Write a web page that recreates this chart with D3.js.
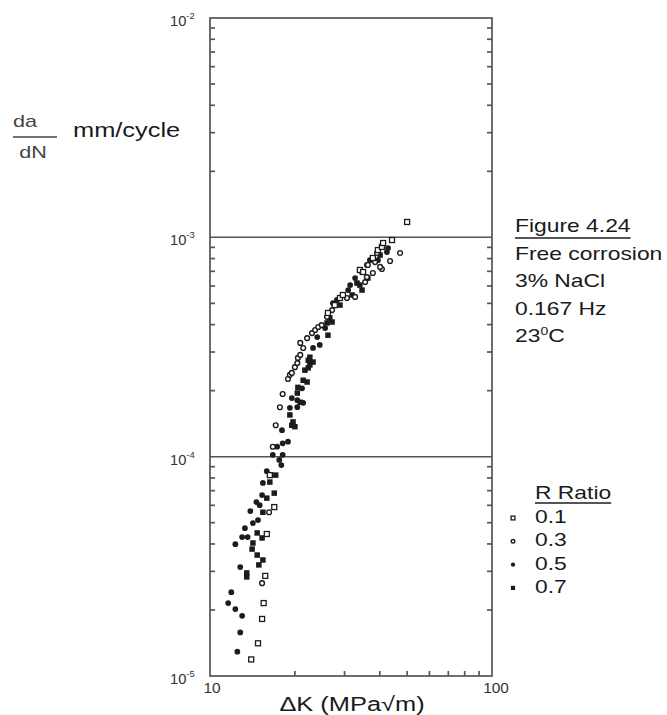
<!DOCTYPE html>
<html>
<head>
<meta charset="utf-8">
<script src="https://cdn.jsdelivr.net/npm/d3@7"></script>
<style>
  body { margin: 0; background: #fff; }
  svg { display: block; font-family: "Liberation Sans", Arial, sans-serif; }
  text { fill: #1a1a1a; }
</style>
</head>
<body>
<svg></svg>
<script>
// R = 0.1, open squares  [dK, da/dN]
const r01 = [[14.0,1.19e-5],[14.8,1.41e-5],[15.3,1.82e-5],[15.5,2.15e-5],[15.7,2.86e-5],[15.9,4.44e-5],
	[16.9,5.89e-5],[16.3,8.24e-5],[26.2,4.52e-4],[27.7,4.91e-4],[28.9,5.29e-4],[29.6,5.46e-4],[34.0,7.10e-4],
	[34.9,6.95e-4],[37.8,8.05e-4],[39.4,8.75e-4],[40.7,9.04e-4],[41.1,9.42e-4],[44.2,9.72e-4],[50.0,1.175e-3]];
// R = 0.3, open circles
const r03 = [[15.3,2.65e-5],[16.2,5.58e-5],[16.7,1.11e-4],[17.1,1.39e-4],[17.7,1.68e-4],[18.1,1.93e-4],
	[18.9,2.26e-4],[19.2,2.36e-4],[19.5,2.41e-4],[20.0,2.56e-4],[20.4,2.67e-4],[20.5,2.82e-4],[20.9,2.91e-4],
	[20.9,3.30e-4],[21.4,3.13e-4],[22.1,3.47e-4],[23.0,3.66e-4],[23.6,3.78e-4],[24.2,3.90e-4],[24.9,3.98e-4],
	[26.0,4.34e-4],[27.1,4.66e-4],[30.6,5.29e-4],[32.7,5.35e-4],[34.6,6.95e-4],[35.5,6.25e-4],[36.0,6.59e-4],
	[36.3,7.48e-4],[37.8,6.88e-4],[38.5,7.71e-4],[39.1,8.48e-4],[40.7,7.17e-4],[43.5,7.80e-4],[47.2,8.48e-4],
	[40.1,7.33e-4]];
// R = 0.5, filled circles
const r05 = [[12.5,1.29e-5],[12.8,1.58e-5],[13.0,1.88e-5],[12.3,2.02e-5],[11.6,2.15e-5],[11.9,2.41e-5],
	[12.8,3.14e-5],[12.3,3.99e-5],[13.0,4.30e-5],[13.6,4.30e-5],[13.3,4.72e-5],[13.9,5.65e-5],[14.2,4.98e-5],
	[14.6,6.21e-5],[14.8,5.14e-5],[15.0,6.01e-5],[15.4,7.59e-5],[15.3,6.68e-5],[15.9,8.59e-5],[16.7,1.02e-4],
	[17.3,1.11e-4],[18.0,1.32e-4],[18.1,1.15e-4],[18.9,1.17e-4],[17.6,9.66e-5],[17.9,9.16e-5],[18.1,1.02e-4],
	[19.2,1.67e-4],[20.4,1.81e-4],[21.2,2.05e-4],[19.5,1.85e-4],[21.4,1.76e-4],[20.4,1.68e-4],[23.2,3.13e-4],
	[24.0,3.51e-4],[24.5,3.23e-4],[25.6,3.86e-4],[28.2,5.18e-4],[27.3,5.01e-4],[30.9,5.75e-4],[31.4,6.06e-4],
	[32.7,6.52e-4],[36.0,7.48e-4],[36.9,7.87e-4],[39.4,7.87e-4],[42.8,8.94e-4],[42.4,8.57e-4]];
// R = 0.7, filled squares
const r07 = [[13.5,2.95e-5],[13.5,2.83e-5],[14.1,3.79e-5],[14.2,4.04e-5],[14.7,3.56e-5],[15.4,3.38e-5],
	[14.9,3.21e-5],[14.7,4.49e-5],[15.3,4.26e-5],[15.4,5.58e-5],[15.9,6.47e-5],[16.3,7.66e-5],[16.9,6.82e-5],
	[17.1,8.24e-5],[19.2,1.55e-4],[19.7,1.44e-4],[20.0,1.37e-4],[19.5,1.39e-4],[20.4,1.95e-4],[20.5,2.07e-4],
	[20.9,1.77e-4],[21.4,2.23e-4],[22.1,2.19e-4],[21.7,2.48e-4],[22.3,2.75e-4],[22.6,2.62e-4],[22.6,2.84e-4],
	[23.2,2.70e-4],[22.3,2.54e-4],[26.0,4.07e-4],[27.1,4.11e-4],[26.6,4.29e-4],[26.2,3.58e-4],[28.9,4.91e-4],
	[31.9,5.46e-4],[33.2,6.19e-4],[34.0,6.06e-4],[34.6,5.75e-4],[36.3,6.52e-4],[40.1,8.30e-4]];

const ratios = ["0.1", "0.3", "0.5", "0.7"];
const decades = [1e-5, 1e-4, 1e-3, 1e-2];
const decadeExp = ["-5", "-4", "-3", "-2"];
const gridRates = [1e-4, 1e-3];
const xLabels = [10, 100];
const notes = ["Free corrosion", "3% NaCl", "0.167 Hz"];

const svg = d3.select("svg").attr("width", 667).attr("height", 715);
const ink = "#1c1c1c";
const axisInk = "#555";
const SX = 1.27; // the scan is stretched sideways

const x = d3.scaleLog().domain([10, 100]).range([210, 492]);
const y = d3.scaleLog().domain([1e-5, 1e-2]).range([676, 18]);

function label(g, px, py, s, size, anchor, sx) {
	return g.append("text")
		.attr("transform", `translate(${px},${py}) scale(${sx || SX},1)`)
		.attr("text-anchor", anchor || "start")
		.style("font-size", size + "px")
		.text(s);
}

// minor ticks 2..9 in each decade
const minorY = [];
decades.slice(0, 3).forEach((d) => { for (let m = 2; m <= 9; m++) minorY.push(d * m); });
const minorX = d3.range(20, 100, 10);

const axes = svg.append("g").attr("class", "axes")
	.attr("stroke", axisInk).attr("stroke-width", 1.7).attr("fill", "none");
axes.append("rect").attr("x", x(10)).attr("y", y(1e-2))
	.attr("width", x(100) - x(10)).attr("height", y(1e-5) - y(1e-2));
axes.selectAll("line.yl").data(minorY).join("line").attr("class", "yl")
	.attr("x1", x(10)).attr("x2", x(10) + 5).attr("y1", (d) => y(d)).attr("y2", (d) => y(d));
axes.selectAll("line.yr").data(minorY).join("line").attr("class", "yr")
	.attr("x1", x(100)).attr("x2", x(100) - 5).attr("y1", (d) => y(d)).attr("y2", (d) => y(d));
axes.selectAll("line.xb").data(minorX).join("line").attr("class", "xb")
	.attr("x1", (d) => x(d)).attr("x2", (d) => x(d)).attr("y1", y(1e-5)).attr("y2", y(1e-5) - 5);
axes.selectAll("line.grid").data(gridRates).join("line").attr("class", "grid")
	.attr("x1", x(10)).attr("x2", x(100))
	.attr("y1", (d) => y(d)).attr("y2", (d) => y(d)).attr("stroke-width", 1.5);

// decade labels 10^n
const yl = svg.append("g");
decades.forEach((d, i) => {
	const t = yl.append("text")
		.attr("transform", `translate(170,${y(d) + 8}) scale(1.05,1)`)
		.style("font-size", "14px").style("fill", "#333");
	t.append("tspan").text("10");
	t.append("tspan").attr("dy", -7).style("font-size", "9px").text(decadeExp[i]);
});

xLabels.forEach((v, i) => {
	label(svg, x(v) + (i ? 4 : 2), 693, String(v), 14, "middle", 1.1).style("fill", "#333");
});

label(svg, 352, 711, "\u0394K (MPa\u221Am)", 20, "middle");

// y title
const yt = svg.append("g");
label(yt, 25, 127, "da", 17, "middle").style("fill", "#444");
label(yt, 33, 158, "dN", 17, "middle").style("fill", "#444");
yt.append("line").attr("x1", 13).attr("x2", 57).attr("y1", 137).attr("y2", 137)
	.attr("stroke", "#444").attr("stroke-width", 1.4);
label(yt, 73, 137, "mm/cycle", 20);

// figure notes
const nt = svg.append("g");
const fig = label(nt, 515, 232, "Figure 4.24", 18);
const fw = fig.node().getComputedTextLength() * SX;
nt.append("line").attr("x1", 515).attr("x2", 515 + fw).attr("y1", 238).attr("y2", 238)
	.attr("stroke", ink).attr("stroke-width", 1.3);
notes.forEach((s, i) => label(nt, 515, 260 + i * 27.3, s, 18));
const deg = nt.append("text").attr("transform", `translate(515,342) scale(${SX},1)`).style("font-size", "18px");
deg.append("tspan").text("23");
deg.append("tspan").attr("dy", -7).style("font-size", "11px").text("0");
deg.append("tspan").attr("dy", 7).text("C");

// symbols
function drawSym(g, kind, cx, cy, s) {
	if (kind === 0) {
		g.append("rect").attr("x", cx - s).attr("y", cy - s).attr("width", 2 * s).attr("height", 2 * s)
			.attr("fill", "#fff").attr("stroke", ink).attr("stroke-width", 1.3);
	} else if (kind === 1) {
		g.append("circle").attr("cx", cx).attr("cy", cy).attr("r", s * 0.95)
			.attr("fill", "#fff").attr("stroke", ink).attr("stroke-width", 1.4);
	} else if (kind === 2) {
		g.append("circle").attr("cx", cx).attr("cy", cy).attr("r", s * 1.15).attr("fill", ink);
	} else {
		g.append("rect").attr("x", cx - s * 1.1).attr("y", cy - s * 1.1)
			.attr("width", 2.2 * s).attr("height", 2.2 * s).attr("fill", ink);
	}
}

const pts = svg.append("g").attr("class", "points");
[r07, r05, r03, r01].forEach((series, j) => {
	const kind = 3 - j;
	series.forEach((d) => drawSym(pts, kind, x(d[0]), y(d[1]), 2.5));
});

// legend
const lg = svg.append("g");
const rt = label(lg, 535, 499, "R Ratio", 18);
const rw = rt.node().getComputedTextLength() * SX;
lg.append("line").attr("x1", 535).attr("x2", 535 + rw).attr("y1", 503).attr("y2", 503)
	.attr("stroke", ink).attr("stroke-width", 1.3);
ratios.forEach((r, i) => {
	const yy = 523 + i * 23.3;
	drawSym(lg, i, 513, yy - 5, 1.9);
	label(lg, 535, yy, r, 18);
});
</script>
</body>
</html>
